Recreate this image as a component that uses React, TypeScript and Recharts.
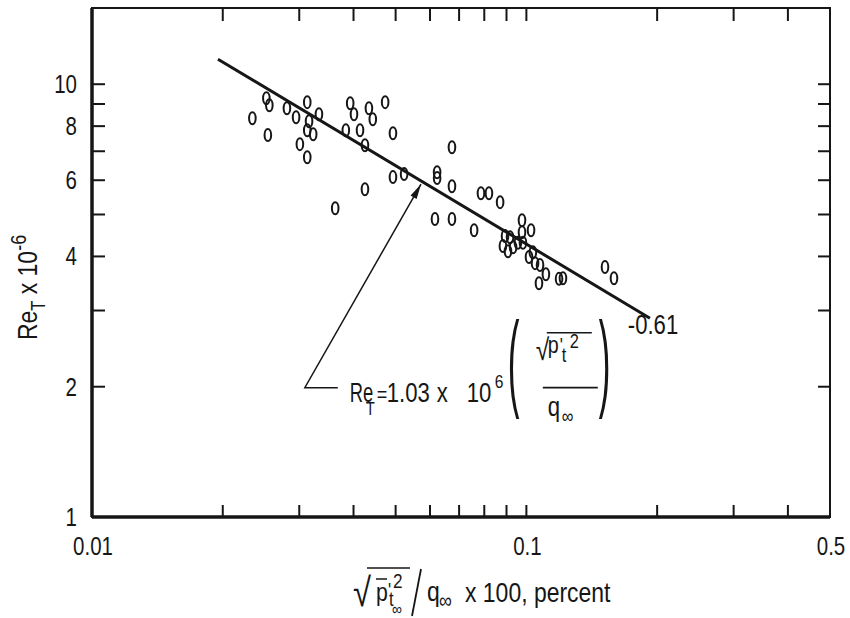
import { ScatterChart, Scatter, XAxis, YAxis, ReferenceArea, ReferenceDot } from 'recharts';

// pressure fluctuation, percent (x) against transition Reynolds number x 10^-6 (y)
const rmsPressure = [
  0.0252, 0.0256, 0.0234, 0.0254, 0.0281, 0.0295, 0.0313, 0.0316, 0.0333, 0.0313,
  0.0323, 0.0301, 0.0313, 0.0393, 0.0401, 0.0384, 0.0414, 0.0434, 0.0443, 0.0473,
  0.0493, 0.0425, 0.0523, 0.0493, 0.0425, 0.0363, 0.0674, 0.0623, 0.0623, 0.0674,
  0.0786, 0.082, 0.087, 0.0616, 0.0674, 0.0758, 0.0977, 0.0977, 0.1025, 0.0893,
  0.0917, 0.0883, 0.0907, 0.0932, 0.0956, 0.0982, 0.1014, 0.1035, 0.1047, 0.1075,
  0.1109, 0.1069, 0.1189, 0.1214, 0.1517, 0.1591,
];
const reynolds = [
  9.28, 8.94, 8.34, 7.63, 8.8, 8.39, 9.09, 8.21, 8.52, 7.83,
  7.66, 7.27, 6.78, 9.04, 8.52, 7.83, 7.83, 8.8, 8.3, 9.09,
  7.7, 7.23, 6.2, 6.1, 5.72, 5.17, 7.15, 6.26, 6.07, 5.81,
  5.6, 5.6, 5.34, 4.88, 4.88, 4.6, 4.85, 4.55, 4.6, 4.46,
  4.43, 4.23, 4.11, 4.2, 4.3, 4.3, 3.99, 4.09, 3.86, 3.82,
  3.64, 3.47, 3.55, 3.56, 3.78, 3.56,
];

// fitted curve end points
const fitX = [0.0195, 0.1925];
const fitY = [11.42, 2.88];

// leader from the equation to the curve
const leaderX = [0.0368, 0.0309, 0.0572];
const leaderY = [1.99, 1.99, 5.875];

const xTicks = [0.01, 0.02, 0.03, 0.04, 0.05, 0.06, 0.07, 0.08, 0.09, 0.1, 0.2, 0.3, 0.4, 0.5];
const xTickLabels: Record<string, string> = { '0.01': '0.01', '0.1': '0.1', '0.5': '0.5' };
const yTicks = [1, 2, 3, 4, 5, 6, 7, 8, 9, 10];
const yTickLabels: Record<string, string> = { '1': '1', '2': '2', '4': '4', '6': '6', '8': '8', '10': '10' };

const points = rmsPressure.map((x, i) => ({ x, y: reynolds[i] }));
const fitLine = fitX.map((x, i) => ({ x, y: fitY[i] }));
const leader = leaderX.map((x, i) => ({ x, y: leaderY[i], head: i === leaderX.length - 1 }));

const W = 850;
const H = 618;
const LEFT = 92;
const RIGHT = 830;
const TOP = 8;
const BOTTOM = 517;
const INK = '#161616';
const FONT = "'Liberation Sans', Arial, sans-serif";
const NARROW = 0.82;

// condensed text: regular sans squeezed horizontally
function T({ x, y, size, anchor, squeeze = NARROW, children }: any) {
  return (
    <text
      transform={`translate(${x},${y}) scale(${squeeze},1)`}
      fontSize={size}
      textAnchor={anchor}
      fill={INK}
      fontFamily={FONT}
    >
      {children}
    </text>
  );
}

function XTick({ x, payload }: any) {
  const v = payload.value;
  const edge = v === 0.01 || v === 0.5;
  const label = xTickLabels[String(v)];
  return (
    <g>
      {!edge && <line x1={x} x2={x} y1={BOTTOM} y2={BOTTOM - 12} stroke={INK} strokeWidth={2} />}
      {!edge && <line x1={x} x2={x} y1={TOP} y2={TOP + 13} stroke={INK} strokeWidth={2} />}
      {label && <T x={x + 1} y={BOTTOM + 38} size={25} anchor="middle">{label}</T>}
    </g>
  );
}

function YTick({ y, payload }: any) {
  const v = payload.value;
  const edge = v === 1;
  const label = yTickLabels[String(v)];
  return (
    <g>
      {!edge && <line x1={LEFT} x2={LEFT + 13} y1={y} y2={y} stroke={INK} strokeWidth={2} />}
      {!edge && <line x1={RIGHT - 12} x2={RIGHT} y1={y} y2={y} stroke={INK} strokeWidth={2} />}
      {label && <T x={LEFT - 15} y={y + 9} size={25} anchor="end">{label}</T>}
    </g>
  );
}

function XTitle() {
  return (
    <g>
      <T x={353} y={606} size={40}>√</T>
      <line x1={367} x2={410} y1={568} y2={568} stroke={INK} strokeWidth={1.6} />
      <T x={376} y={601} size={26}>p</T>
      <line x1={376} x2={387} y1={579} y2={579} stroke={INK} strokeWidth={1.5} />
      <T x={388} y={597} size={20}>'</T>
      <T x={393} y={588} size={21}>2</T>
      <T x={389} y={606} size={20}>t</T>
      <T x={392} y={615} size={17}>∞</T>
      <line x1={412} x2={421} y1={616} y2={569} stroke={INK} strokeWidth={1.8} />
      <T x={427} y={601} size={28}>q</T>
      <T x={439} y={608} size={22}>∞</T>
      <T x={465} y={602} size={28}>x 100, percent</T>
    </g>
  );
}

function YTitle() {
  return (
    <text transform={`translate(37,340) rotate(-90) scale(${NARROW},1)`} fill={INK} fontFamily={FONT} fontSize={28}>
      Re
      <tspan fontSize={20} dy={8}>T</tspan>
      <tspan dy={-8}> x 10</tspan>
      <tspan fontSize={22} dy={-11}>-6</tspan>
    </text>
  );
}

function ZeroMark({ cx, cy }: any) {
  return <ellipse cx={cx} cy={cy} rx={3.3} ry={6} fill="none" stroke={INK} strokeWidth={2} />;
}

function ArrowHead({ cx, cy, payload }: any) {
  if (!payload || !payload.head) return <g />;
  return <polygon points="0,0 -15,-3.5 -15,3.5" transform={`translate(${cx},${cy}) rotate(-60.4)`} fill={INK} />;
}

function Formula({ cx, cy }: any) {
  const paren = (x: number, ch: string) => (
    <text transform={`translate(${x},9) scale(1.3,4)`} fontSize={27} fill={INK} fontFamily={FONT}>{ch}</text>
  );
  return (
    <g transform={`translate(${cx},${cy})`}>
      <T x={12} y={14} size={27} squeeze={0.68}>Re</T>
      <T x={28} y={27} size={18}>T</T>
      <T x={39} y={14} size={22}>=</T>
      <T x={49} y={14} size={27}>1.03</T>
      <T x={99} y={14} size={27}>x</T>
      <T x={129} y={14} size={27}>10</T>
      <T x={157} y={0} size={19}>6</T>
      {paren(170, '(')}
      <T x={198} y={-28} size={30}>√</T>
      <line x1={209} x2={254} y1={-55} y2={-55} stroke={INK} strokeWidth={1.5} />
      <T x={210} y={-35} size={24}>p</T>
      <T x={222} y={-36} size={20}>'</T>
      <T x={224} y={-26} size={20}>t</T>
      <T x={232} y={-40} size={20}>2</T>
      <line x1={205} x2={260} y1={0} y2={0} stroke={INK} strokeWidth={1.6} />
      <T x={210} y={28} size={27}>q</T>
      <T x={224} y={35} size={20}>∞</T>
      {paren(261, ')')}
      <T x={290} y={-54} size={27}>-0.61</T>
    </g>
  );
}

export default function App() {
  return (
    <div style={{ position: 'absolute', left: 0, top: 0, width: W, height: H, background: '#fff' }}>
      <ScatterChart width={W} height={H} margin={{ top: TOP, right: W - RIGHT, bottom: 0, left: 0 }}>
        <XAxis
          type="number"
          dataKey="x"
          scale="log"
          domain={[0.01, 0.5]}
          allowDataOverflow
          ticks={xTicks}
          interval={0}
          tick={<XTick />}
          tickSize={0}
          tickMargin={0}
          tickLine={false}
          axisLine={{ stroke: INK, strokeWidth: 3.5 }}
          height={H - BOTTOM}
          label={<XTitle />}
        />
        <YAxis
          type="number"
          dataKey="y"
          scale="log"
          domain={[1, 15]}
          allowDataOverflow
          ticks={yTicks}
          interval={0}
          tick={<YTick />}
          tickSize={0}
          tickMargin={0}
          tickLine={false}
          axisLine={{ stroke: INK, strokeWidth: 3.5 }}
          width={LEFT}
          label={<YTitle />}
        />
        <ReferenceArea x1={0.01} x2={0.5} y1={1} y2={15} fill="none" stroke={INK} strokeWidth={2} />
        <Scatter data={fitLine} line={{ stroke: INK, strokeWidth: 3 }} shape={() => <g />} isAnimationActive={false} />
        <Scatter data={leader} line={{ stroke: INK, strokeWidth: 1.5 }} shape={<ArrowHead />} isAnimationActive={false} />
        <Scatter data={points} shape={<ZeroMark />} isAnimationActive={false} />
        <ReferenceDot x={leaderX[0]} y={leaderY[0]} r={0} shape={(p: any) => <Formula cx={p.cx} cy={p.cy} />} />
      </ScatterChart>
    </div>
  );
}
